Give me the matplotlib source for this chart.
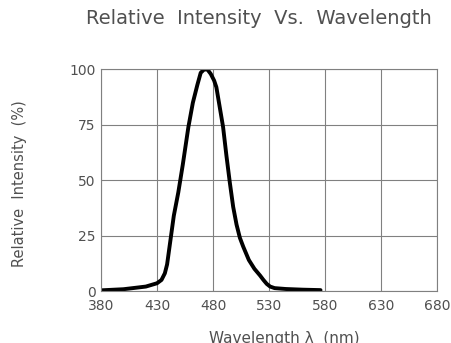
import matplotlib
matplotlib.use("Agg")
import matplotlib.pyplot as plt

# values
wavelength = [380, 400, 420, 430, 434, 437, 439, 442, 445, 449, 453, 458, 462, 466,
              469, 472, 475, 478, 481, 483, 486, 489, 492, 495, 498, 501, 504,
              507, 512, 517, 522, 525, 528, 531, 535, 545, 560, 576]
intensity = [0.3, 0.8, 2, 3.5, 5, 8, 12, 23, 34, 44.5, 57, 74, 85, 93,
             98.5, 100, 100, 98, 95, 92, 83, 74, 61, 49, 38, 30, 24,
             20, 14, 10, 7, 5, 3.2, 2, 1.3, 0.9, 0.6, 0.4]

x_ticks = [380, 430, 480, 530, 580, 630, 680]
y_ticks = [0, 25, 50, 75, 100]

txt = "#505050"
grid_col = "#808080"

fig = plt.figure(figsize=(4.52, 3.43), dpi=100)
ax = fig.add_axes([0.2235, 0.1516, 0.7433, 0.6458])

ax.plot(wavelength, intensity, color="black", linewidth=2.8,
        solid_capstyle="round", solid_joinstyle="round")

ax.set_xlim(380, 680)
ax.set_ylim(0, 100)
ax.set_xticks(x_ticks)
ax.set_yticks(y_ticks)
ax.grid(True, color=grid_col, linewidth=0.8)
ax.tick_params(axis="x", length=0, labelsize=10, labelcolor=txt, pad=6)
ax.tick_params(axis="y", length=0, labelsize=10, labelcolor=txt, pad=4)
for s in ax.spines.values():
    s.set_color(grid_col)
    s.set_linewidth(0.8)

fig.text(0.573, 0.947, "Relative  Intensity  Vs.  Wavelength", ha="center", va="center",
         fontsize=14, color=txt)
fig.text(0.044, 0.466, "Relative  Intensity  (%)", rotation=90, ha="center", va="center",
         fontsize=10.5, color=txt)
fig.text(0.63, 0.014, "Wavelength λ  (nm)", ha="center", va="center",
         fontsize=11, color=txt)

fig.savefig("out.png", dpi=100)
